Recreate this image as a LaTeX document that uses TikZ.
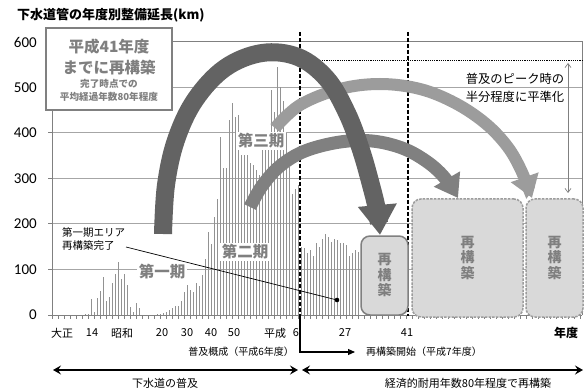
\documentclass[tikz,border=0pt]{standalone}
\usepackage{fontspec}
\setmainfont{Noto Sans CJK JP}
\newfontfamily\numfont{Carlito}
\usetikzlibrary{arrows.meta}
\newcommand\myfs[1]{\fontsize{#1}{#1}\selectfont}
\definecolor{darkarr}{HTML}{636363}
\definecolor{midarr}{HTML}{808080}
\definecolor{lightarr}{HTML}{9C9C9C}
\definecolor{boxfill}{HTML}{D9D9D9}
\definecolor{txtgray}{HTML}{7F7F7F}
\definecolor{barcol}{HTML}{929292}
\definecolor{gridcol}{HTML}{A6A6A6}
\definecolor{framecol}{HTML}{808080}
\tikzset{
  gridline/.style={draw=gridcol, line width=1pt},
  frameline/.style={draw=framecol, line width=1pt},
  barline/.style={draw=barcol, line width=0.9pt},
  period/.style={fill=white, inner sep=1.5pt, text=txtgray, font=\bfseries\myfs{15.5}},
  recbox/.style={draw=framecol, fill=boxfill, line width=1.5pt, rounded corners=9pt,
     text=txtgray, align=center, font=\bfseries\fontsize{14}{15.5}\selectfont},
  recdash/.style={recbox, draw=lightarr, dash pattern=on 2.5pt off 1.2pt},
  xlab/.style={font=\myfs{11}, inner sep=0pt},
  ylab/.style={font=\numfont\myfs{15}, anchor=east, inner sep=0pt},
  small/.style={font=\myfs{10}, inner sep=0pt},
  bigarrow/.style={line cap=butt},
}
\begin{document}
\begin{tikzpicture}[x=1pt,y=-1pt]
\useasboundingbox (0,0) rectangle (586,390);
% title
\node[anchor=west, inner sep=0pt, font=\bfseries\myfs{13}] (title) at (17,15) {下水道管の年度別整備延長(km)};
% gridlines
\foreach \v in {100,200,300,400,500}{
  \draw[gridline] (52,315-0.455*\v) -- (582,315-0.455*\v);
}
% y ticks and labels
\foreach \v in {0,100,...,600}{
  \draw[frameline] (48,315-0.455*\v) -- (52,315-0.455*\v);
  \node[ylab] at (37,315-0.455*\v) {\v};
}
% bars
\foreach \h [count=\k from 0] in {0,0,0,0,0,0,0,0,0,1,1,2,2,
 35,6,37,53,83,31,39,70,90,117,79,90,66,17,7,26,15,
 0,1,0,1,1,2,2,
 4,7,11,16,20,20,31,51,66,55,51,70,64,88,122,183,155,215,254,392,324,324,
 428,465,436,440,352,352,352,333,330,318,308,363,381,374,495,447,546,500,470,400,326,267,278,285,
 150,147,136,143,130,158,150,168,178,172,161,168,165,159,158,154,130,136,143,139}{
  \draw[barline] (52+3*\k,315) -- (52+3*\k,315-0.455*\h);
}
% frame and axes
\draw[frameline] (172,42) -- (582,42) -- (582,315);
\draw[frameline] (52,110) -- (52,315) -- (582,315);
\foreach \i in {0,...,88}{ \draw[frameline] (52+6*\i,315) -- (52+6*\i,319); }
% period labels
\node[period] (p1) at (162,272) {第一期};
\node[period] (p2) at (245,252) {第二期};
\node[period] (p3) at (261,141) {第三期};
% annotation
\node[small, align=left, anchor=west, font=\myfs{10.5}] (ann) at (62,239) {第一期エリア\\[2pt]再構築完了};
\coordinate (annend) at (126,247);
\coordinate (dot) at (337,300);
\draw[line width=0.7pt] (annend) -- (dot);
\fill (dot) circle (2.3);
% dashed verticals and dotted line
\coordinate (d1t) at (300,32); \coordinate (d1b) at (300,315);
\coordinate (d2t) at (408,32); \coordinate (d2b) at (408,316);
\draw[line width=1.1pt, dash pattern=on 4pt off 2pt] (d1t) -- (d1b);
\draw[line width=1.1pt, dash pattern=on 4pt off 2pt] (d2t) -- (d2b);
\coordinate (dl) at (300,60); \coordinate (dr) at (582,60);
\draw[line width=0.9pt, dash pattern=on 1.2pt off 1pt] (dl) -- (dr);
% curved arrows
\draw[bigarrow, midarr, line width=13pt, -{Triangle[length=22pt,width=29pt]}]
  plot[smooth, tension=0.6] coordinates {(250,207) (262,186) (280,166) (305,151) (340,142) (372,141) (402,148) (426,161) (444,177) (458,198)};
\draw[bigarrow, lightarr, line width=12pt, -{Triangle[length=22pt,width=28pt]}]
  plot[smooth, tension=0.6] coordinates {(275,128) (300,105) (340,89) (380,84) (420,89) (455,103) (485,123) (507,146) (521,170) (532,198)};
\draw[bigarrow, darkarr, line width=18pt, -{Triangle[length=30pt,width=37pt]}]
  plot[smooth, tension=0.6] coordinates {(163,234) (166,185) (176,140) (195,100) (225,68) (262,53) (298,57) (327,79) (347,113) (361,150) (371,185) (377,210) (380,235)};
% reconstruction boxes
\node[recbox, minimum width=47pt, minimum height=79pt, inner sep=0pt] (r1) at (384.5,275.5) {再\\構\\築};
\node[recdash, minimum width=111pt, minimum height=118pt, inner sep=0pt] (r2) at (467.5,258) {再\\構\\築};
\node[recdash, minimum width=57pt, minimum height=118pt, inner sep=0pt] (r3) at (554.5,258) {再\\構\\築};
% leveling double arrow and text
\coordinate (lvt) at (568,63); \coordinate (lvb) at (568,193);
\draw[framecol, line width=0.7pt, {Straight Barb[length=4pt,width=6pt]}-{Straight Barb[length=4pt,width=6pt]}] (lvt) -- (lvb);
\node[align=left, font=\fontsize{12.3}{18}\selectfont, inner sep=0pt] (lvtext) at (515,88) {普及のピーク時の\\半分程度に平準化};
% text box top-left
\node[draw=framecol, line width=1.2pt, fill=white, minimum width=126pt, minimum height=82pt, inner sep=0pt] (tb) at (109,69) {};
\node[text=txtgray, font=\bfseries\myfs{15.5}, inner sep=0pt] (tb1) at (109,47) {平成41年度};
\node[text=txtgray, font=\bfseries\myfs{15.5}, inner sep=0pt] (tb2) at (109,68) {までに再構築};
\node[text=txtgray, font=\bfseries\myfs{9.6}, inner sep=0pt] (tb3) at (109,84) {完了時点での};
\node[text=txtgray, font=\bfseries\myfs{9.6}, inner sep=0pt] (tb4) at (109,97) {平均経過年数80年程度};
% x labels
\node[xlab] (x1) at (62,333) {大正};
\node[xlab] (x2) at (92,333) {14};
\node[xlab] (x3) at (122,333) {昭和};
\node[xlab] (x4) at (162,333) {20};
\node[xlab] (x5) at (187,333) {30};
\node[xlab] (x6) at (211,333) {40};
\node[xlab] (x7) at (234,333) {50};
\node[xlab] (x8) at (275,333) {平成};
\node[xlab] (x9) at (296,333) {6};
\node[xlab] (x10) at (345,333) {27};
\node[xlab] (x11) at (407,333) {41};
\node[xlab, font=\bfseries\myfs{12}] (x12) at (566,333) {年度};
% milestone texts
\node[small, anchor=east] (fukyu) at (294,352) {普及概成（平成6年度）};
\coordinate (brk) at (300,352); \coordinate (brkend) at (355,352);
\draw[line width=1.1pt, -{Triangle[length=7pt,width=6pt]}] (d1b) -- (brk) -- (brkend);
\node[small, anchor=west] (saikochiku) at (366,352) {再構築開始（平成7年度）};
% bottom arrows
\coordinate (ba1) at (53,370); \coordinate (ba2) at (298,370);
\coordinate (ba3) at (302,370); \coordinate (ba4) at (583,370);
\draw[line width=1.8pt, {Stealth[length=8pt,width=9pt,inset=3pt]}-{Stealth[length=8pt,width=9pt,inset=3pt]}] (ba1) -- (ba2);
\draw[line width=1.8pt, {Stealth[length=8pt,width=9pt,inset=3pt]}-{Stealth[length=8pt,width=9pt,inset=3pt]}] (ba3) -- (ba4);
\node[font=\myfs{11}, inner sep=0pt] (era1) at (165,383) {下水道の普及};
\node[font=\myfs{11}, inner sep=0pt] (era2) at (468,383) {経済的耐用年数80年程度で再構築};
\end{tikzpicture}
\end{document}
